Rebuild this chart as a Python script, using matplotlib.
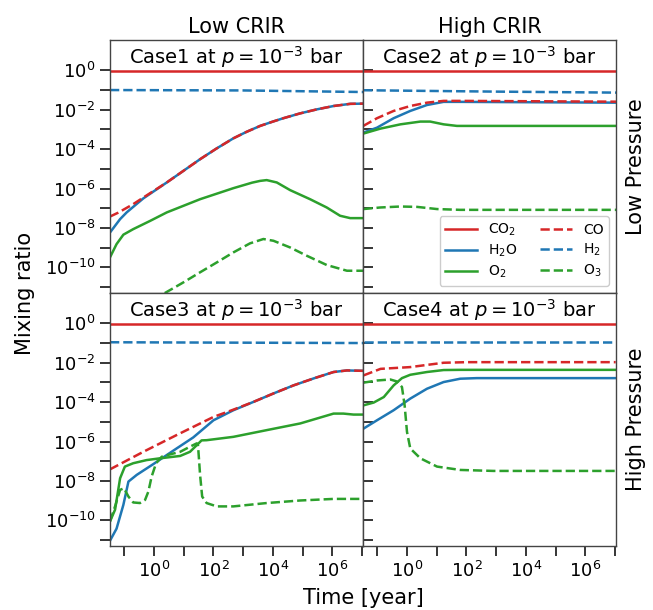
import numpy as np
import matplotlib
matplotlib.use("Agg")
import matplotlib.pyplot as plt
from matplotlib.ticker import NullLocator

# ---------------- data (log10 time [yr], log10 mixing ratio) ----------------
CO2_LEVEL = 0.9
# H2 (roughly constant), given as (log t, log y)
C1_H2 = ([-1.48, 3.0, 5.0, 7.03], [-1.0, -1.02, -1.06, -1.1])
C2_H2 = ([-1.47, 3.0, 7.03], [-1.01, -1.08, -1.13])
C3_H2 = ([-1.48, 7.03], [-0.96, -1.0])
C4_H2 = ([-1.46, 7.03], [-0.96, -0.96])

# Case 1
C1_CO = ([-1.48, -1.2, -0.70, -0.2, 0.43, 1.0, 1.55, 2.1, 2.67, 3.1, 3.57, 4.0,
          4.35, 4.9, 5.48, 6.04, 6.6, 7.03],
         [-7.42, -7.22, -6.79, -6.30, -5.69, -5.09, -4.51, -3.97, -3.45, -3.13,
          -2.82, -2.60, -2.43, -2.19, -1.98, -1.81, -1.70, -1.69])
C1_H2O = ([-1.48, -1.31, -1.14, -0.92, -0.70, -0.36, 0.43, 1.0, 1.55, 2.1, 2.67,
           3.1, 3.57, 4.0, 4.35, 4.9, 5.48, 6.04, 6.6, 7.03],
          [-8.23, -7.89, -7.55, -7.21, -6.93, -6.50, -5.69, -5.09, -4.51, -3.97,
           -3.45, -3.13, -2.82, -2.60, -2.43, -2.19, -1.98, -1.81, -1.70, -1.69])
C1_O2 = ([-1.48, -1.26, -1.03, -0.70, -0.13, 0.43, 1.55, 2.67, 3.3, 3.57, 3.79,
          4.13, 4.58, 5.25, 5.81, 6.26, 6.60, 7.03],
         [-9.49, -8.82, -8.34, -8.06, -7.64, -7.21, -6.54, -5.98, -5.70, -5.61,
          -5.57, -5.69, -6.08, -6.54, -6.96, -7.38, -7.50, -7.50])
C1_O3 = ([-1.48, 0.31, 0.99, 1.55, 2.11, 2.67, 3.23, 3.68, 4.02, 4.58, 5.14,
          5.81, 6.49, 7.03],
         [-13.2, -11.35, -10.76, -10.25, -9.75, -9.24, -8.78, -8.56, -8.65,
          -8.99, -9.41, -9.88, -10.17, -10.17])

# Case 2
C2_CO = ([-1.47, -1.01, -0.45, 0.11, 0.67, 1.23, 1.79, 7.03],
         [-2.82, -2.43, -2.06, -1.81, -1.64, -1.55, -1.55, -1.59])
C2_H2O = ([-1.47, -1.01, -0.45, 0.11, 0.67, 1.23, 1.79, 7.03],
          [-3.16, -2.91, -2.43, -2.06, -1.76, -1.60, -1.60, -1.64])
C2_O2 = ([-1.47, -0.90, -0.22, 0.45, 0.78, 1.23, 1.68, 7.03],
         [-3.21, -2.96, -2.74, -2.60, -2.60, -2.74, -2.82, -2.82])
C2_O3 = ([-1.47, -0.90, -0.22, 0.34, 1.01, 1.79, 7.03],
         [-7.04, -6.96, -6.91, -6.93, -7.04, -7.08, -7.08])

# Case 3
C3_CO = ([-1.48, -0.36, 0.76, 2.00, 2.67, 3.34, 4.0, 4.69, 5.4, 6.04, 6.49, 7.03],
         [-7.41, -6.52, -5.67, -4.75, -4.38, -3.99, -3.57, -3.15, -2.78, -2.47,
          -2.39, -2.41])
C3_H2O = ([-1.48, -1.26, -1.03, -0.86, -0.58, -0.02, 0.65, 1.32, 2.00, 2.67,
           3.34, 4.0, 4.69, 5.4, 6.04, 6.49, 7.03],
          [-11.03, -10.42, -9.21, -8.03, -7.69, -7.14, -6.46, -5.79, -4.92, -4.41,
           -3.99, -3.57, -3.15, -2.78, -2.47, -2.39, -2.41])
C3_O2 = ([-1.48, -1.31, -1.14, -0.98, -0.70, -0.25, 0.20, 0.88, 1.21, 1.44,
          1.60, 1.77, 2.67, 3.79, 4.92, 6.04, 6.37, 6.71, 7.03],
         [-10.05, -9.46, -7.86, -7.27, -7.10, -6.94, -6.85, -6.73, -6.52, -6.18,
          -5.94, -5.93, -5.76, -5.42, -5.08, -4.58, -4.58, -4.63, -4.63])
C3_O3 = ([-1.48, -1.31, -1.14, -1.01, -0.86, -0.70, -0.47, -0.30, -0.19, -0.08,
          0.07, 0.26, 0.54, 0.88, 1.21, 1.44, 1.48, 1.55, 1.62, 1.77, 2.11, 2.67,
          3.79, 4.92, 6.04, 7.03],
         [-10.05, -9.29, -8.45, -8.37, -8.79, -9.09, -9.12, -8.96, -8.54, -7.78,
          -7.10, -6.77, -6.65, -6.52, -6.26, -6.09, -6.18, -7.69, -8.79, -9.12,
          -9.29, -9.29, -9.12, -8.99, -8.91, -8.91])

# Case 4
C4_CO = ([-1.46, -0.89, 0.11, 1.23, 2.01, 7.02],
         [-2.64, -2.31, -2.22, -2.00, -1.97, -1.97])
C4_O2 = ([-1.46, -1.12, -0.78, -0.45, -0.17, 0.11, 0.67, 1.23, 1.79, 7.02],
         [-4.16, -4.02, -3.74, -3.15, -2.78, -2.61, -2.47, -2.37, -2.36, -2.36])
C4_H2O = ([-1.46, -1.01, -0.45, 0.11, 0.67, 1.23, 1.79, 2.35, 7.02],
          [-5.34, -4.92, -4.41, -3.82, -3.32, -2.98, -2.81, -2.78, -2.78])
C4_O3 = ([-1.46, -1.01, -0.56, -0.34, -0.17, -0.08, 0.0, 0.11, 0.45, 1.01,
          1.79, 2.91, 7.02],
         [-3.01, -2.90, -2.85, -2.95, -3.23, -4.16, -5.51, -6.35, -6.85, -7.27,
          -7.44, -7.49, -7.49])

CASES = [
    ("Case1", C1_H2, C1_CO, C1_H2O, C1_O2, C1_O3),
    ("Case2", C2_H2, C2_CO, C2_H2O, C2_O2, C2_O3),
    ("Case3", C3_H2, C3_CO, C3_H2O, C3_O2, C3_O3),
    ("Case4", C4_H2, C4_CO, C4_H2O, C4_O2, C4_O3),
]
COL_TITLES = ["Low CRIR", "High CRIR"]
ROW_TITLES = ["Low Pressure", "High Pressure"]
X_TICK_EXP = list(range(-1, 8))
Y_TICK_EXP = list(range(-11, 1))

RED, BLUE, GREEN = "#d62728", "#1f77b4", "#2ca02c"

# ---------------- figure ----------------
W, H = 653, 610
fig = plt.figure(figsize=(W / 100, H / 100), dpi=100)
gs = fig.add_gridspec(2, 2, left=110 / W, right=616 / W, top=1 - 40 / H,
                      bottom=1 - 546 / H, hspace=0, wspace=0)

lw = 1.8
for i, (name, h2, co, h2o, o2, o3) in enumerate(CASES):
    r, c = divmod(i, 2)
    ax = fig.add_subplot(gs[r, c])
    ax.set_xscale("log")
    ax.set_yscale("log")
    p = lambda d: (10.0 ** np.array(d[0]), 10.0 ** np.array(d[1]))
    t_all = 10.0 ** np.array([-1.5, 7.05])
    ax.plot(t_all, [CO2_LEVEL, CO2_LEVEL], color=RED, lw=lw, label="CO$_2$")
    ax.plot(*p(h2o), color=BLUE, lw=lw, label="H$_2$O")
    ax.plot(*p(o2), color=GREEN, lw=lw, label="O$_2$")
    ax.plot(*p(co), color=RED, lw=lw, ls="--", label="CO")
    ax.plot(*p(h2), color=BLUE, lw=lw, ls="--", label="H$_2$")
    ax.plot(*p(o3), color=GREEN, lw=lw, ls="--", label="O$_3$")

    ax.set_xlim(10 ** -1.48, 10 ** 7.03)
    ax.set_ylim(10 ** -11.3, 10 ** 1.54)
    ax.set_xticks([10.0 ** k for k in X_TICK_EXP])
    ax.set_xticklabels([f"$10^{{{k}}}$" if k % 2 == 0 else "" for k in X_TICK_EXP])
    ax.set_yticks([10.0 ** k for k in Y_TICK_EXP])
    ax.set_yticklabels([f"$10^{{{k}}}$" if k % 2 == 0 else "" for k in Y_TICK_EXP])
    ax.xaxis.set_minor_locator(NullLocator())
    ax.yaxis.set_minor_locator(NullLocator())
    ax.tick_params(axis="both", labelsize=13, length=7, width=1.1, direction="out")
    for s in ax.spines.values():
        s.set_linewidth(1.0)
        s.set_color("#444444")

    if c == 1:
        ax.tick_params(axis="y", direction="in", labelleft=False, length=7)
    if r == 0:
        ax.tick_params(axis="x", bottom=False, labelbottom=False)

    ax.text(0.5, 0.985, name + r" at $p = 10^{-3}$ bar", transform=ax.transAxes,
            ha="center", va="top", fontsize=14)

    if r == 0:
        ax.set_title(COL_TITLES[c], fontsize=15, pad=5)
    if c == 1:
        ax.text(1.08, 0.5, ROW_TITLES[r], transform=ax.transAxes, rotation=90,
                ha="center", va="center", fontsize=15)
    if i == 1:
        ax.legend(loc="lower right", ncol=2, fontsize=10, handlelength=2.3,
                  columnspacing=1.6, labelspacing=0.35, borderpad=0.4,
                  framealpha=1.0)

fig.text(363 / W, 1 - 598 / H, "Time [year]", ha="center", va="center", fontsize=15)
fig.text(25 / W, 1 - 293 / H, "Mixing ratio", ha="center", va="center",
         rotation=90, fontsize=15)

fig.savefig("out.png", dpi=100)
